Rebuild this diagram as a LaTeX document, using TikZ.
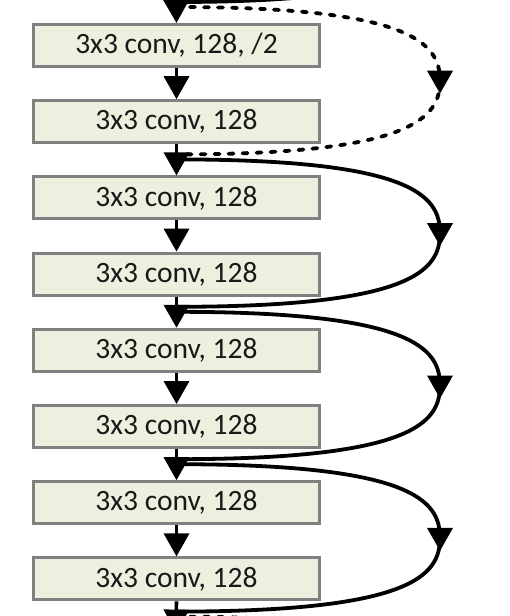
\documentclass[tikz,border=0pt]{standalone}
\usepackage{fontspec}
\setmainfont{Carlito}
\usetikzlibrary{arrows.meta,decorations.markings}
\definecolor{boxfill}{HTML}{EBF1DE}
\definecolor{boxline}{HTML}{808080}
\begin{document}
\begin{tikzpicture}[x=1pt,y=-1pt,
  convbox/.style={draw=boxline, fill=boxfill, line width=3pt, minimum width=286pt, minimum height=42pt, inner sep=0pt, text=black!90, font=\fontsize{29.5}{31}\selectfont},
  flow/.style={line width=3.6pt, -{Triangle[length=23pt,width=25pt]}},
  skip/.style={line width=3.8pt, postaction={decorate}, decoration={markings, mark=at position 0.5 with {\pgftransformxshift{13pt}\arrow{Triangle[length=23pt,width=25pt]}}}},
  skipdot/.style={skip, dash pattern=on 5pt off 9pt, line cap=round}]
\useasboundingbox (0,0) rectangle (510,616);
\clip (0,0) rectangle (510,616);
% boxes
\node[convbox] (b1) at (176.5,45.5) {3x3 conv, 128, /2};
\node[convbox] (b2) at (176.5,121.7) {3x3 conv, 128};
\node[convbox] (b3) at (176.5,197.9) {3x3 conv, 128};
\node[convbox] (b4) at (176.5,274.1) {3x3 conv, 128};
\node[convbox] (b5) at (176.5,350.3) {3x3 conv, 128};
\node[convbox] (b6) at (176.5,426.5) {3x3 conv, 128};
\node[convbox] (b7) at (176.5,502.7) {3x3 conv, 128};
\node[convbox] (b8) at (176.5,578.9) {3x3 conv, 128};
% junction coordinates
\coordinate (top) at (176,-20);
\coordinate (bot) at (176,632.6);
\coordinate (oz) at (176,-145.4);
\coordinate (mz) at (440,-71.7);
\coordinate (i1) at (176,2);
\coordinate (o1) at (176,7);
\coordinate (m1) at (440,80.7);
\coordinate (i3) at (176,154.4);
\coordinate (o3) at (176,159.4);
\coordinate (m3) at (440,233.1);
\coordinate (i5) at (176,306.8);
\coordinate (o5) at (176,311.8);
\coordinate (m5) at (440,385.5);
\coordinate (i7) at (176,459.2);
\coordinate (o7) at (176,464.2);
\coordinate (m7) at (440,537.9);
\coordinate (i9) at (176,611.6);
\coordinate (o9) at (176,616.6);
\coordinate (m9) at (440,690.3);
\coordinate (i11) at (176,764);
% shortcut connections
\draw[skip] (oz) .. controls +(235,0) and +(0,-38) .. (mz) .. controls +(0,38) and +(235,0) .. (i1);
\draw[skipdot] (o1) .. controls +(235,0) and +(0,-38) .. (m1) .. controls +(0,38) and +(235,0) .. (i3);
\draw[skip] (o3) .. controls +(235,0) and +(0,-38) .. (m3) .. controls +(0,38) and +(235,0) .. (i5);
\draw[skip] (o5) .. controls +(235,0) and +(0,-38) .. (m5) .. controls +(0,38) and +(235,0) .. (i7);
\draw[skip] (o7) .. controls +(235,0) and +(0,-38) .. (m7) .. controls +(0,38) and +(235,0) .. (i9);
\draw[skipdot] (o9) .. controls +(235,0) and +(0,-38) .. (m9) .. controls +(0,38) and +(235,0) .. (i11);
% main flow
\draw[flow] (top) -- (b1.north);
\draw[flow] (b1.south) -- (b2.north);
\draw[flow] (b2.south) -- (b3.north);
\draw[flow] (b3.south) -- (b4.north);
\draw[flow] (b4.south) -- (b5.north);
\draw[flow] (b5.south) -- (b6.north);
\draw[flow] (b6.south) -- (b7.north);
\draw[flow] (b7.south) -- (b8.north);
\draw[flow] (b8.south) -- (bot);
\end{tikzpicture}
\end{document}
